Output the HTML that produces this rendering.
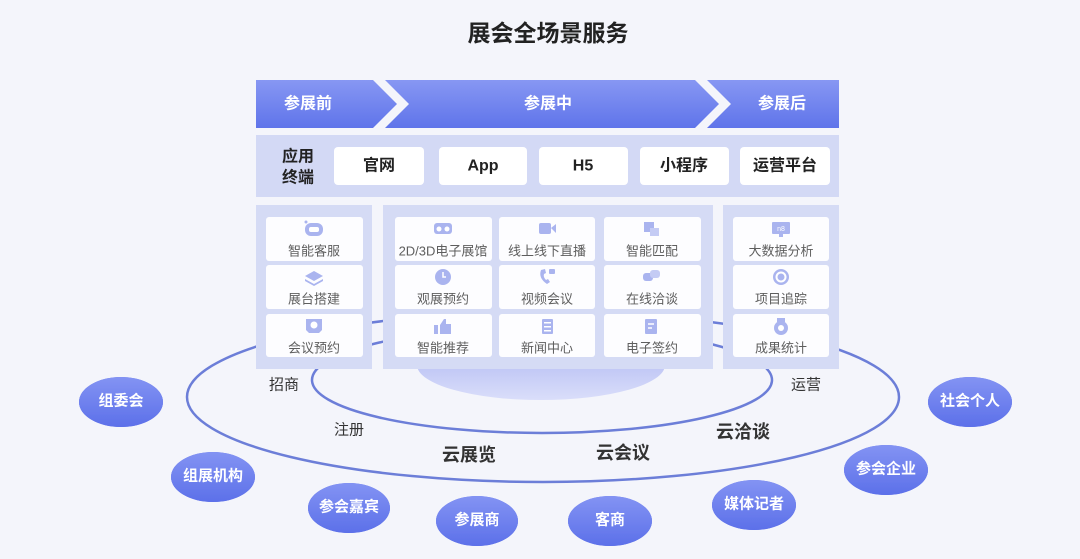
<!DOCTYPE html>
<html><head><meta charset="utf-8"><style>
html,body{margin:0;padding:0;background:#f4f5fb;}
svg{display:block;font-family:"Liberation Sans","Noto Sans CJK SC",sans-serif;}
</style></head><body>
<svg width="1080" height="559" viewBox="0 0 1080 559" xmlns="http://www.w3.org/2000/svg">
<defs>
<linearGradient id="band" x1="0" y1="0" x2="0" y2="1"><stop offset="0" stop-color="#8797f3"/><stop offset="1" stop-color="#5f74ea"/></linearGradient>
<linearGradient id="bub" x1="0" y1="0" x2="0" y2="1"><stop offset="0" stop-color="#8393f3"/><stop offset="1" stop-color="#5c70e9"/></linearGradient>
<linearGradient id="plat" x1="0" y1="0" x2="0" y2="1"><stop offset="0" stop-color="#a4aef0"/><stop offset="1" stop-color="#dadefa"/></linearGradient>
<filter id="glow" x="-30%" y="-30%" width="160%" height="170%"><feGaussianBlur in="SourceAlpha" stdDeviation="3"/><feOffset dy="3"/><feComponentTransfer><feFuncA type="linear" slope="0.25"/></feComponentTransfer><feFlood flood-color="#5c70e9"/><feComposite operator="in" in2="SourceAlpha"/><feMerge><feMergeNode/><feMergeNode in="SourceGraphic"/></feMerge></filter>
</defs>
<rect width="1080" height="559" fill="#f4f5fb"/>

<text x="548" y="33" text-anchor="middle" dominant-baseline="central" font-size="23" font-weight="bold" fill="#222">展会全场景服务</text>

<!-- ellipses -->
<ellipse cx="543" cy="397" rx="356" ry="85" fill="none" stroke="#6c7ed8" stroke-width="2.5"/>
<ellipse cx="542" cy="380" rx="230" ry="53" fill="none" stroke="#6c7ed8" stroke-width="2.5"/>
<ellipse cx="541" cy="365" rx="124" ry="35" fill="url(#plat)"/>

<!-- header band -->
<polygon points="256,80 373,80 397,104 373,128 256,128" fill="url(#band)"/>
<polygon points="385,80 695,80 719,104 695,128 385,128 409,104" fill="url(#band)"/>
<polygon points="707,80 839,80 839,128 707,128 731,104" fill="url(#band)"/>
<g font-size="16" font-weight="bold" fill="#fff" text-anchor="middle" dominant-baseline="central">
<text x="308" y="104">参展前</text>
<text x="548" y="104">参展中</text>
<text x="782" y="104">参展后</text>
</g>

<!-- terminal row -->
<rect x="256" y="135" width="583" height="62" fill="#d3d9f5"/>
<g fill="#fff">
<rect x="334" y="147" width="90" height="38" rx="4"/>
<rect x="439" y="147" width="88" height="38" rx="4"/>
<rect x="539" y="147" width="89" height="38" rx="4"/>
<rect x="640" y="147" width="89" height="38" rx="4"/>
<rect x="740" y="147" width="90" height="38" rx="4"/>
</g>
<g font-size="16" font-weight="bold" fill="#222" text-anchor="middle" dominant-baseline="central">
<text x="298" y="157">应用</text>
<text x="298" y="178">终端</text>
<text x="379" y="166">官网</text>
<text x="483" y="166">App</text>
<text x="583" y="166">H5</text>
<text x="684" y="166">小程序</text>
<text x="785" y="166">运营平台</text>
</g>

<!-- panels -->
<g fill="#d5dbf5">
<rect x="256" y="205" width="116" height="164"/>
<rect x="383" y="205" width="330" height="164"/>
<rect x="723" y="205" width="116" height="164"/>
</g>
<g fill="#fdfdff">
<rect x="266" y="217" width="97" height="44" rx="3"/>
<rect x="266" y="265" width="97" height="44" rx="3"/>
<rect x="266" y="314" width="97" height="43" rx="3"/>
<rect x="395" y="217" width="97" height="44" rx="3"/>
<rect x="395" y="265" width="97" height="44" rx="3"/>
<rect x="395" y="314" width="97" height="43" rx="3"/>
<rect x="499" y="217" width="96" height="44" rx="3"/>
<rect x="499" y="265" width="96" height="44" rx="3"/>
<rect x="499" y="314" width="96" height="43" rx="3"/>
<rect x="604" y="217" width="97" height="44" rx="3"/>
<rect x="604" y="265" width="97" height="44" rx="3"/>
<rect x="604" y="314" width="97" height="43" rx="3"/>
<rect x="733" y="217" width="96" height="44" rx="3"/>
<rect x="733" y="265" width="96" height="44" rx="3"/>
<rect x="733" y="314" width="96" height="43" rx="3"/>
</g>
<g font-size="13" fill="#5e5e5e" text-anchor="middle" dominant-baseline="central">
<text x="314" y="251">智能客服</text>
<text x="314" y="299">展台搭建</text>
<text x="314" y="348">会议预约</text>
<text x="443" y="251">2D/3D电子展馆</text>
<text x="443" y="299">观展预约</text>
<text x="443" y="348">智能推荐</text>
<text x="547" y="251">线上线下直播</text>
<text x="547" y="299">视频会议</text>
<text x="547" y="348">新闻中心</text>
<text x="652" y="251">智能匹配</text>
<text x="652" y="299">在线洽谈</text>
<text x="652" y="348">电子签约</text>
<text x="781" y="251">大数据分析</text>
<text x="781" y="299">项目追踪</text>
<text x="781" y="348">成果统计</text>
</g>

<!-- icons -->
<g fill="#aab4ef">
<rect x="305" y="223" width="18" height="13" rx="6"/><rect x="309" y="227" width="10" height="5" rx="2" fill="#fff"/><circle cx="306" cy="222" r="1.5"/>
<polygon points="314,271 323,276 314,281 305,276"/><polygon points="305,279 314,284 323,279 323,281 314,286 305,281"/>
<path d="M306,319 h16 v11 l-3,3 h-10 l-3,-3z"/><circle cx="314" cy="325" r="3.5" fill="#fff"/>
<rect x="434" y="223" width="18" height="11" rx="3"/><circle cx="439" cy="229" r="2.5" fill="#fff"/><circle cx="447" cy="229" r="2.5" fill="#fff"/>
<circle cx="443" cy="277" r="8"/><path d="M443,272 v5 h3" stroke="#fff" stroke-width="1.5" fill="none"/>
<rect x="434" y="325" width="4" height="9"/><path d="M440,325 l4,-6 h2 v5 h5 v10 h-11z"/>
<rect x="539" y="223" width="12" height="11" rx="2"/><polygon points="551,228 556,224 556,233"/>
<path d="M541,270 q-3,8 6,14 l3,-2 -2,-3 -2,1 q-3,-3 -2,-6 l2,-1 -1,-4z"/><rect x="549" y="269" width="6" height="5" rx="1"/>
<rect x="542" y="319" width="11" height="15" rx="1"/><g fill="#fff"><rect x="544" y="322" width="7" height="1.5"/><rect x="544" y="326" width="7" height="1.5"/><rect x="544" y="330" width="7" height="1.5"/></g>
<rect x="644" y="222" width="10" height="10"/><rect x="650" y="228" width="9" height="8" fill="#c4cbf4"/>
<rect x="643" y="273" width="10" height="8" rx="3"/><rect x="650" y="270" width="10" height="8" rx="3" fill="#c4cbf4"/>
<rect x="645" y="319" width="12" height="15" rx="1"/><path d="M648,324 h6 M648,328 h4" stroke="#fff" stroke-width="1.5"/>
<rect x="772" y="222" width="18" height="12" rx="1"/><rect x="779" y="234" width="4" height="3"/><text x="781" y="231" font-size="7" fill="#fff" text-anchor="middle">n8</text>
<circle cx="781" cy="277" r="8"/><circle cx="781" cy="277" r="5.5" fill="#fff"/><circle cx="781" cy="277" r="3.5"/>
<rect x="777" y="318" width="8" height="4"/><circle cx="781" cy="328" r="7"/><circle cx="781" cy="328" r="3" fill="#fff"/>
</g>

<!-- bubbles -->
<g filter="url(#glow)" fill="url(#bub)">
<ellipse cx="121" cy="402" rx="42" ry="25"/>
<ellipse cx="213" cy="477" rx="42" ry="25"/>
<ellipse cx="349" cy="508" rx="41" ry="25"/>
<ellipse cx="477" cy="521" rx="41" ry="25"/>
<ellipse cx="610" cy="521" rx="42" ry="25"/>
<ellipse cx="754" cy="505" rx="42" ry="25"/>
<ellipse cx="886" cy="470" rx="42" ry="25"/>
<ellipse cx="970" cy="402" rx="42" ry="25"/>
</g>
<g font-size="15" font-weight="bold" fill="#fff" text-anchor="middle" dominant-baseline="central">
<text x="121" y="401">组委会</text>
<text x="213" y="476">组展机构</text>
<text x="349" y="507">参会嘉宾</text>
<text x="477" y="520">参展商</text>
<text x="610" y="520">客商</text>
<text x="754" y="504">媒体记者</text>
<text x="886" y="469">参会企业</text>
<text x="970" y="401">社会个人</text>
</g>

<!-- labels -->
<g font-size="15" fill="#333" text-anchor="middle" dominant-baseline="central">
<text x="284" y="385">招商</text>
<text x="349" y="430">注册</text>
<text x="806" y="385">运营</text>
</g>
<g font-size="18" font-weight="bold" fill="#333" text-anchor="middle" dominant-baseline="central">
<text x="469" y="455">云展览</text>
<text x="623" y="453">云会议</text>
<text x="743" y="432">云洽谈</text>
</g>
</svg>
</body></html>
